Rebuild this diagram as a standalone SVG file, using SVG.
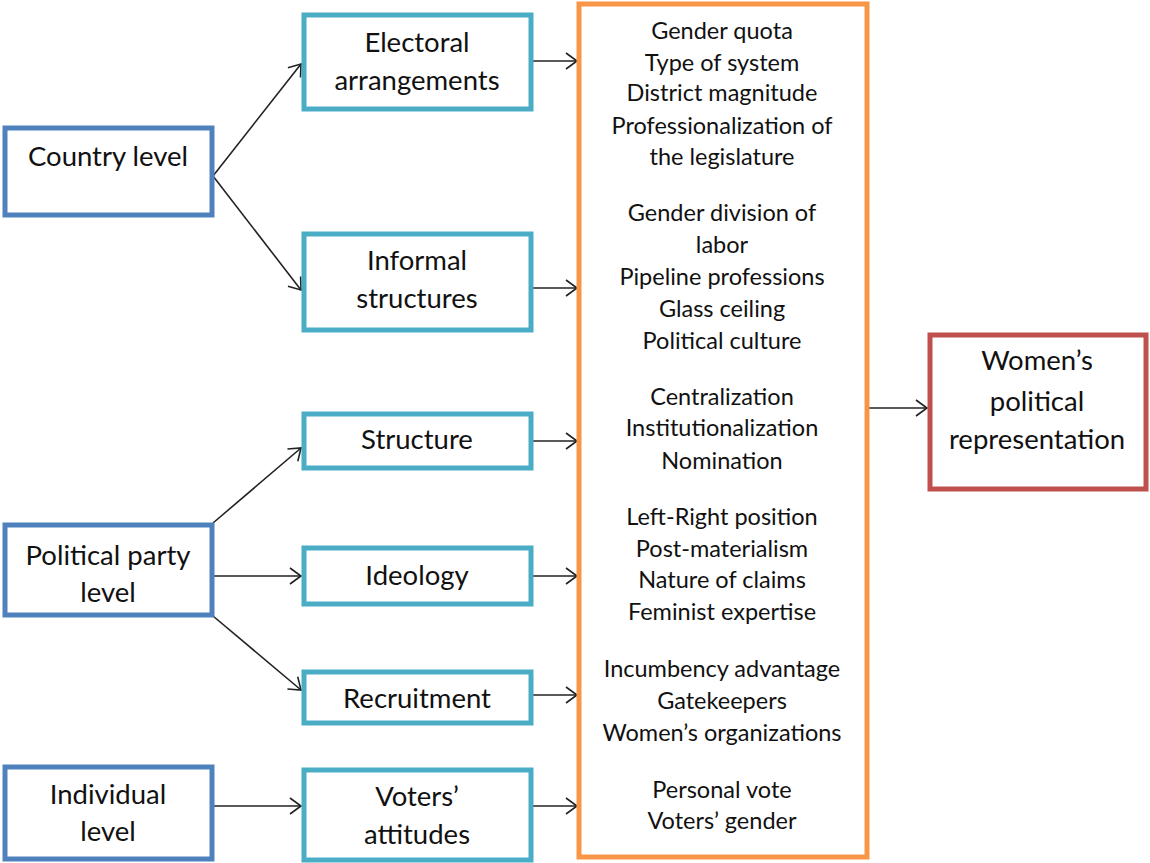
<svg xmlns="http://www.w3.org/2000/svg" width="1150" height="863" viewBox="0 0 1150 863">
<style>
.t{font-family:Lato,"Liberation Sans",sans-serif;fill:#111;text-anchor:middle}
.b{font-size:27.5px}
.s{font-size:23.5px}
.lv{fill:#fff;stroke:#4f81bd;stroke-width:5}
.md{fill:#fff;stroke:#4bacc6;stroke-width:5}
.fx{fill:#fff;stroke:#f79646;stroke-width:5}
.out{fill:#fff;stroke:#c0504d;stroke-width:5}
.c{stroke:#222;stroke-width:1.6;fill:none;marker-end:url(#ah)}
</style>
<defs>
<marker id="ah" markerUnits="userSpaceOnUse" markerWidth="20" markerHeight="20" viewBox="-12 -10 14 20" refX="0" refY="0" orient="auto">
<path d="M-11,-8 L0,0 L-11,8" fill="none" stroke="#222" stroke-width="1.6"/>
</marker>
</defs>
<rect width="1150" height="863" fill="#fff"/>
<g id="connectors">
<line class="c" x1="213" y1="176" x2="301" y2="64"/>
<line class="c" x1="213" y1="176" x2="301" y2="290"/>
<line class="c" x1="533" y1="61" x2="577" y2="61"/>
<line class="c" x1="533" y1="288" x2="577" y2="288"/>
<line class="c" x1="213" y1="523" x2="301" y2="448"/>
<line class="c" x1="213" y1="576" x2="301" y2="576"/>
<line class="c" x1="213" y1="616" x2="301" y2="690"/>
<line class="c" x1="533" y1="441" x2="577" y2="441"/>
<line class="c" x1="533" y1="576" x2="577" y2="576"/>
<line class="c" x1="533" y1="695" x2="577" y2="695"/>
<line class="c" x1="213" y1="806" x2="301" y2="806"/>
<line class="c" x1="533" y1="806" x2="577" y2="806"/>
<line class="c" x1="868" y1="408" x2="927" y2="408"/>
</g>
<g id="country-level">
<rect class="lv" x="5" y="128" width="207" height="87"/>
<text class="t b" x="108" y="166">Country level</text>
</g>
<g id="political-party-level">
<rect class="lv" x="5" y="525" width="207" height="90"/>
<text class="t b" x="108" y="565">Political party</text>
<text class="t b" x="108" y="602">level</text>
</g>
<g id="individual-level">
<rect class="lv" x="5" y="767" width="207" height="92"/>
<text class="t b" x="108" y="804">Individual</text>
<text class="t b" x="108" y="841">level</text>
</g>
<g id="electoral-arrangements">
<rect class="md" x="304" y="15" width="227" height="94"/>
<text class="t b" x="417" y="52">Electoral</text>
<text class="t b" x="417" y="90">arrangements</text>
</g>
<g id="informal-structures">
<rect class="md" x="304" y="234" width="227" height="96"/>
<text class="t b" x="417" y="270">Informal</text>
<text class="t b" x="417" y="308">structures</text>
</g>
<g id="structure">
<rect class="md" x="304" y="414" width="227" height="54"/>
<text class="t b" x="417" y="449">Structure</text>
</g>
<g id="ideology">
<rect class="md" x="304" y="548" width="227" height="56"/>
<text class="t b" x="417" y="585">Ideology</text>
</g>
<g id="recruitment">
<rect class="md" x="304" y="672" width="227" height="51"/>
<text class="t b" x="417" y="708">Recruitment</text>
</g>
<g id="voters-attitudes">
<rect class="md" x="304" y="770" width="227" height="90"/>
<text class="t b" x="417" y="806">Voters’</text>
<text class="t b" x="417" y="844">attitudes</text>
</g>
<g id="factors">
<rect class="fx" x="579" y="4" width="288" height="853"/>
<text class="t s" x="722" y="39">Gender quota</text>
<text class="t s" x="722" y="71">Type of system</text>
<text class="t s" x="722" y="101">District magnitude</text>
<text class="t s" x="722" y="134">Professionalization of</text>
<text class="t s" x="722" y="165">the legislature</text>
<text class="t s" x="722" y="221">Gender division of</text>
<text class="t s" x="722" y="253">labor</text>
<text class="t s" x="722" y="285">Pipeline professions</text>
<text class="t s" x="722" y="317">Glass ceiling</text>
<text class="t s" x="722" y="349">Political culture</text>
<text class="t s" x="722" y="405">Centralization</text>
<text class="t s" x="722" y="436">Institutionalization</text>
<text class="t s" x="722" y="469">Nomination</text>
<text class="t s" x="722" y="525">Left-Right position</text>
<text class="t s" x="722" y="557">Post-materialism</text>
<text class="t s" x="722" y="588">Nature of claims</text>
<text class="t s" x="722" y="620">Feminist expertise</text>
<text class="t s" x="722" y="677">Incumbency advantage</text>
<text class="t s" x="722" y="709">Gatekeepers</text>
<text class="t s" x="722" y="741">Women’s organizations</text>
<text class="t s" x="722" y="798">Personal vote</text>
<text class="t s" x="722" y="829">Voters’ gender</text>
</g>
<g id="womens-political-representation">
<rect class="out" x="930" y="335" width="216" height="154"/>
<text class="t b" x="1037" y="370">Women’s</text>
<text class="t b" x="1037" y="411">political</text>
<text class="t b" x="1037" y="449">representation</text>
</g>
</svg>
